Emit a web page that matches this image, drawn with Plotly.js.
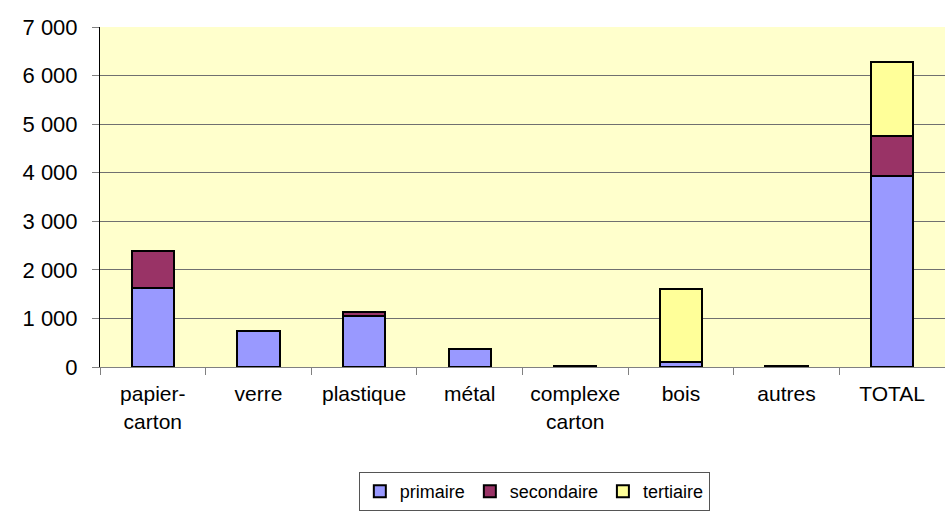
<!DOCTYPE html>
<html>
<head>
<meta charset="utf-8">
<script src="https://cdn.plot.ly/plotly-3.0.1.min.js"></script>
<style>
  html, body { margin: 0; padding: 0; background: #fff; }
  #chart { width: 945px; height: 511px; }
</style>
</head>
<body>
<div id="chart"></div>
<script>
const categories = ['papier-<br>carton', 'verre', 'plastique', 'métal', 'complexe<br>carton', 'bois', 'autres', 'TOTAL'];
const primaire   = [1620, 750, 1060, 370, 20, 100, 15, 3925];
const secondaire = [760, 0, 75, 10, 5, 0, 0, 830];
const tertiaire  = [0, 0, 0, 0, 0, 1510, 0, 1520];

const outline = {color: '#000', width: 2};
const data = [
    {x: categories, y: primaire, name: 'primaire', type: 'bar',
     marker: {color: '#9999FF', line: outline}},
    {x: categories, y: secondaire, name: 'secondaire', type: 'bar',
     marker: {color: '#993366', line: outline}},
    {x: categories, y: tertiaire, name: 'tertiaire', type: 'bar',
     marker: {color: '#FFFF99', line: outline}}
];

const layout = {
    width: 945, height: 511,
    barmode: 'stack',
    bargap: 0.6,
    separators: ', ',
    font: {family: 'Arial, "Liberation Sans", sans-serif', size: 20, color: '#000'},
    plot_bgcolor: '#FFFFCC',
    paper_bgcolor: '#fff',
    margin: {l: 100, r: 0, t: 27, b: 143},
    xaxis: {
        type: 'category',
        tickson: 'boundaries',
        ticks: 'outside', ticklen: 7, tickcolor: '#808080',
        ticklabelstandoff: 8,
        showline: true, linecolor: '#808080', linewidth: 1,
        showgrid: false,
        tickfont: {size: 21}
    },
    yaxis: {
        range: [0, 7000], dtick: 1000,
        tickformat: ',d', separatethousands: true,
        ticks: 'outside', ticklen: 7, tickcolor: '#808080',
        ticklabelstandoff: 10,
        showline: true, linecolor: '#000', linewidth: 1,
        gridcolor: '#707070', gridwidth: 1,
        zeroline: false,
        tickfont: {size: 22}
    },
    showlegend: true,
    legend: {
        orientation: 'h', x: 0.514, xanchor: 'center', y: -0.31, yanchor: 'top',
        bordercolor: '#555', borderwidth: 1,
        font: {size: 18}, traceorder: 'normal'
    }
};

Plotly.newPlot('chart', data, layout, {displayModeBar: false, staticPlot: true});
</script>
</body>
</html>
